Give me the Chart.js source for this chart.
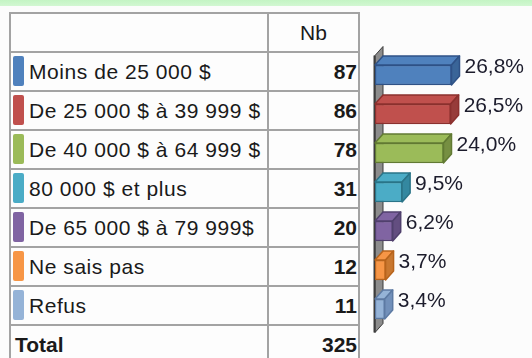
<!DOCTYPE html>
<html>
<head>
<meta charset="utf-8">
<script src="https://cdn.jsdelivr.net/npm/chart.js@4/dist/chart.umd.min.js"></script>
<style>
  html, body { margin: 0; padding: 0; }
  body {
    width: 532px; height: 358px; overflow: hidden; position: relative;
    background: #fcfcfc;
    font-family: "Liberation Sans", Arial, sans-serif;
    color: #1a1a1a;
  }
  #band {
    position: absolute; left: 0; top: 0; width: 532px; height: 6px;
    background: linear-gradient(#c4f4c4, #d2f7d2);
  }
  #tbl {
    position: absolute; left: 9px; top: 12px;
    border-collapse: collapse; table-layout: fixed;
    font-size: 21px;
    background: #fdfdfd;
  }
  #tbl td {
    border: 2px solid #a3a3a3;
    padding: 0; height: 37px; white-space: nowrap;
    vertical-align: middle;
  }
  #tbl tr.head td { height: 37px; }
  #tbl td.lab { width: 252px; letter-spacing: 0.55px; }
  #tbl td.num { width: 91px; text-align: right; font-weight: bold; padding-right: 1px; box-sizing: border-box; }
  #tbl tr.head td.num { text-align: center; font-weight: normal; padding-right: 0; }
  .sw {
    display: inline-block; width: 11px; height: 30px; border-radius: 2px;
    vertical-align: middle; margin: 0 5px 0 2px; position: relative; top: -1px;
  }
  .txt { vertical-align: middle; }
  td.tot { font-weight: bold; padding-left: 4px !important; letter-spacing: 0 !important; }
  #chart { position: absolute; left: 365px; top: 0; }
</style>
</head>
<body>
<div id="band"></div>
<table id="tbl"><tbody id="rows"></tbody></table>
<canvas id="chart" width="167" height="358"></canvas>
<script>
// income brackets, counts and shares
const categories = [
  'Moins de 25 000 $',
  'De 25 000 $ à 39 999 $',
  'De 40 000 $ à 64 999 $',
  '80 000 $ et plus',
  'De 65 000 $ à 79 999$',
  'Ne sais pas',
  'Refus'
];
const counts = [87, 86, 78, 31, 20, 12, 11];
const total = 325;
const percents = [26.8, 26.5, 24.0, 9.5, 6.2, 3.7, 3.4];

const colors = ['#4f81bd', '#c0504d', '#9bbb59', '#4bacc6', '#8064a2', '#f79646', '#95b3d7'];
const edges  = ['#2f5286', '#8b302e', '#617a33', '#2a7488', '#50406d', '#b8641c', '#5d7aa3'];
const sides  = ['#3a6598', '#973c3a', '#768f42', '#3488a0', '#634e80', '#c97830', '#7290ba'];

// table on the left
const tbody = document.getElementById('rows');
let html = '<tr class="head"><td class="lab"></td><td class="num">Nb</td></tr>';
categories.forEach((c, i) => {
  html += `<tr><td class="lab"><span class="sw" style="background:${colors[i]}"></span><span class="txt">${c}</span></td>` +
          `<td class="num">${counts[i]}</td></tr>`;
});
html += `<tr><td class="lab tot">Total</td><td class="num">${total}</td></tr>`;
tbody.innerHTML = html;

const DX = 8, DY = 9;

// grey back wall behind the bars
const wall = {
  id: 'wall',
  beforeDatasetsDraw(chart) {
    const { ctx, chartArea: a } = chart;
    const x0 = a.left, top = a.top, bot = a.bottom + 4;
    ctx.save();
    ctx.beginPath();
    ctx.moveTo(x0, top);
    ctx.lineTo(x0 + DX, top - DY);
    ctx.lineTo(x0 + DX, bot - DY);
    ctx.lineTo(x0, bot);
    ctx.closePath();
    ctx.fillStyle = '#8c8c8c';
    ctx.fill();
    ctx.strokeStyle = '#3c3c3c';
    ctx.lineWidth = 1;
    ctx.stroke();
    ctx.beginPath();
    ctx.moveTo(x0 - 0.5, top);
    ctx.lineTo(x0 - 0.5, bot);
    ctx.lineWidth = 2;
    ctx.stroke();
    ctx.restore();
  }
};

// top and side faces plus the percent labels
const faces = {
  id: 'faces',
  afterDatasetsDraw(chart) {
    const ctx = chart.ctx;
    const meta = chart.getDatasetMeta(0);
    meta.data.forEach((bar, i) => {
      const { x, y, base, height } = bar.getProps(['x', 'y', 'base', 'height'], true);
      const t = y - height / 2, b = y + height / 2;
      ctx.save();
      ctx.lineWidth = 1.5;
      ctx.strokeStyle = edges[i];
      ctx.lineJoin = 'round';
      // top face
      ctx.beginPath();
      ctx.moveTo(base, t);
      ctx.lineTo(x, t);
      ctx.lineTo(x + DX, t - DY);
      ctx.lineTo(base + DX, t - DY);
      ctx.closePath();
      ctx.fillStyle = colors[i];
      ctx.fill();
      ctx.stroke();
      // side face
      ctx.beginPath();
      ctx.moveTo(x, t);
      ctx.lineTo(x + DX, t - DY);
      ctx.lineTo(x + DX, b - DY);
      ctx.lineTo(x, b);
      ctx.closePath();
      ctx.fillStyle = sides[i];
      ctx.fill();
      ctx.stroke();
      // label
      ctx.fillStyle = '#1c1c2c';
      ctx.font = '21px "Liberation Sans", Arial, sans-serif';
      ctx.textBaseline = 'middle';
      ctx.textAlign = 'left';
      ctx.fillText(percents[i].toFixed(1).replace('.', ',') + '%', x + DX + 5, y - 8);
      ctx.restore();
    });
  }
};

new Chart(document.getElementById('chart').getContext('2d'), {
  type: 'bar',
  data: {
    labels: categories,
    datasets: [{
      data: percents,
      backgroundColor: colors,
      borderColor: edges,
      borderWidth: 1.5,
      borderSkipped: false,
      barThickness: 20
    }]
  },
  options: {
    indexAxis: 'y',
    responsive: false,
    animation: false,
    devicePixelRatio: 1,
    layout: { padding: { left: 10, top: 55.5, bottom: 29.5, right: 0 } },
    plugins: { legend: { display: false }, tooltip: { enabled: false } },
    scales: {
      x: { display: false, min: 0, max: 55 },
      y: { display: false }
    }
  },
  plugins: [wall, faces]
});
</script>
</body>
</html>
